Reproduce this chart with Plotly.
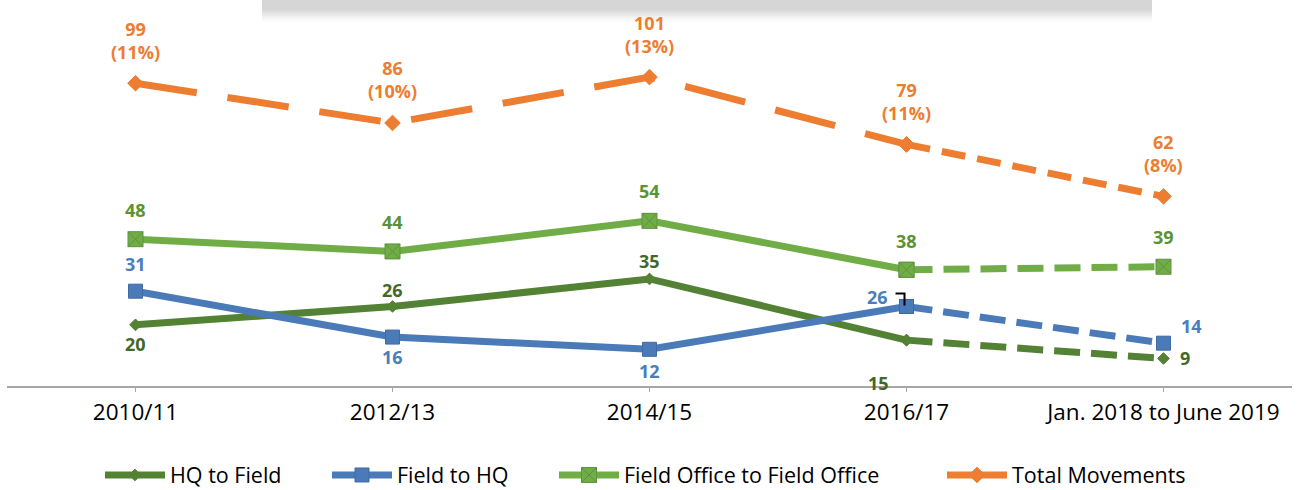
import plotly.graph_objects as go

categories = ["2010/11", "2012/13", "2014/15", "2016/17", "Jan. 2018 to June 2019"]
hq_to_field = [20, 26, 35, 15, 9]
field_to_hq = [31, 16, 12, 26, 14]
field_office = [48, 44, 54, 38, 39]
total_movements = [99, 86, 101, 79, 62]
total_pct = ["11%", "10%", "13%", "11%", "8%"]

series = [
    dict(name="HQ to Field", y=hq_to_field, color="#548235", label="#43692A",
         symbol="diamond", size=9, mline="#548235",
         off=[(0, -19), (0, 16), (0, 18), (-28, -43), (21, 0)],
         solid_dash="solid", rest_dash="26px,11px", legend="legend", lx=106),
    dict(name="Field to HQ", y=field_to_hq, color="#4A7AB8", label="#4A7EBB",
         symbol="square", size=14, mline="#3F6AA3",
         off=[(0, 27), (0, -20), (0, -22), (-29, 9), (28, 17)],
         solid_dash="solid", rest_dash="26px,11px", legend="legend2", lx=333),
    dict(name="Field Office to Field Office", y=field_office, color="#70AD47", label="#5A9334",
         symbol="square-x", size=15, mline="#5F9140",
         off=[(0, 29), (0, 29), (0, 30), (0, 29), (0, 30)],
         solid_dash="solid", rest_dash="26px,11px", legend="legend3", lx=560),
    dict(name="Total Movements", y=total_movements, color="#ED7D31", label="#ED7D31",
         symbol="diamond", size=12, mline="#ED7D31",
         off=[(0, 43)] * 5,
         solid_dash="62px,31px", rest_dash="24px,12px", legend="legend4", lx=948),
]

fig = go.Figure()
annotations = []
legends = {}
for s in series:
    marker = dict(symbol=s["symbol"], size=s["size"], color=s["color"],
                  line=dict(color=s["mline"], width=1))
    fig.add_trace(go.Scatter(x=categories[:4], y=s["y"][:4], mode="lines+markers",
                             line=dict(color=s["color"], width=7, dash=s["solid_dash"]),
                             marker=marker, showlegend=False, hoverinfo="skip"))
    fig.add_trace(go.Scatter(x=categories[3:], y=s["y"][3:], mode="lines+markers",
                             line=dict(color=s["color"], width=7, dash=s["rest_dash"]),
                             marker=marker, showlegend=False, hoverinfo="skip"))
    fig.add_trace(go.Scatter(x=[None], y=[None], mode="lines+markers", name=s["name"],
                             line=dict(color=s["color"], width=7),
                             marker=marker, showlegend=True, legend=s["legend"]))
    legends[s["legend"]] = dict(orientation="h", x=(s["lx"] - 6) / 1298.0, xanchor="left",
                                xref="container", y=(490 - 475) / 490.0, yanchor="middle",
                                yref="container", bgcolor="rgba(0,0,0,0)",
                                font=dict(family="Open Sans", size=21.5, color="#000000"),
                                itemwidth=60, itemclick=False)
    for i, v in enumerate(s["y"]):
        txt = str(v)
        if s["name"] == "Total Movements":
            txt = f"{v}<br>({total_pct[i]})"
        annotations.append(dict(x=categories[i], y=v, text=f"<b>{txt}</b>", showarrow=False,
                                xshift=s["off"][i][0], yshift=s["off"][i][1],
                                font=dict(family="Open Sans", size=18, color=s["label"]),
                                xanchor="center", yanchor="middle"))

# small black bracket mark next to the 2016/17 Field to HQ point
shapes = [dict(type="path", xref="x", yref="y", xsizemode="pixel", ysizemode="pixel",
               xanchor=categories[3], yanchor=field_to_hq[3],
               path="M-11,13 L-2,13 L-2,1", line=dict(color="#000000", width=2))]

# gray shadow band at the top (title box remnant)
def py(p):
    return (386 - p) / 367.0

def px(p):
    return (p - 7) / 1285.0

fades = [("#d6d6d6", 0, 10), ("#dcdcdc", 10, 12), ("#e3e3e3", 12, 14), ("#eaeaea", 14, 16),
         ("#f1f1f1", 16, 18), ("#f7f7f7", 18, 20), ("#fbfbfb", 20, 22)]
for c, a, b in fades:
    shapes.append(dict(type="rect", xref="paper", yref="paper", x0=px(262), x1=px(1152),
                       y0=py(b), y1=py(a), fillcolor=c, line=dict(width=0), layer="below"))

fig.update_layout(
    width=1298, height=490,
    margin=dict(l=7, r=6, t=19, b=104),
    paper_bgcolor="white", plot_bgcolor="white",
    annotations=annotations, shapes=shapes,
    xaxis=dict(type="category", range=[-0.5, 4.5], showgrid=False, zeroline=False,
               showline=True, linecolor="#a6a6a6", linewidth=2,
               ticks="outside", ticklen=4, tickcolor="#a6a6a6", tickwidth=1,
               tickfont=dict(family="Open Sans", size=22.5, color="#000000"),
               ticklabelstandoff=1),
    yaxis=dict(range=[0, 120], visible=False, showgrid=False, zeroline=False),
    showlegend=True,
    **legends,
)

fig.write_html("out.html", config={"displayModeBar": False},
               post_script="document.body.style.margin='0';document.body.style.padding='0';")
